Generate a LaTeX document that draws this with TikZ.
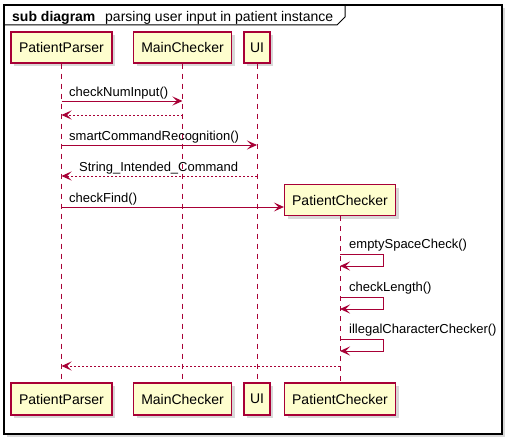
\documentclass[tikz,border=0pt]{standalone}
\usepackage{fontspec}
\setmainfont{Liberation Sans}
\usetikzlibrary{arrows.meta,shadows}
\definecolor{umlred}{HTML}{A80036}
\definecolor{umlfill}{HTML}{FEFECE}
\begin{document}
\begin{tikzpicture}[x=1pt,y=-1pt,
    actor/.style={draw=umlred,fill=umlfill,line width=1.2pt,minimum height=31pt,inner sep=0pt,font=\fontsize{14}{16}\selectfont,drop shadow={shadow xshift=3pt,shadow yshift=-3pt,opacity=.3}},
    life/.style={draw=umlred,dash pattern=on 5pt off 5pt,line width=.8pt},
    msg/.style={draw=umlred,line width=.9pt,-{Stealth[length=10pt,width=9pt,inset=4.5pt]}},
    ret/.style={msg,dash pattern=on 2pt off 2pt},
    lbl/.style={anchor=base west,inner sep=0pt,font=\fontsize{13}{15}\selectfont}]
    \useasboundingbox (0,0) rectangle (512,444);
    \draw[line width=1.3pt,fill=white,drop shadow={shadow xshift=3pt,shadow yshift=-3pt,opacity=.3}] (4,5) rectangle (502,434);
    \draw[line width=1pt] (4,25) -- (337,25) -- (345,17) -- (345,5);
    \node[anchor=base west,inner sep=0pt,font=\fontsize{14}{16}\selectfont\bfseries](t1) at (12,21.5) {sub diagram};
    \node[anchor=base west,inner sep=0pt,font=\fontsize{14}{16}\selectfont](t2) at (105,21.5) {parsing user input in patient instance};
    \node[actor,minimum width=101pt](ppT) at (61.5,47.5) {PatientParser};
    \node[actor,minimum width=98pt](mcT) at (182.5,47.5) {MainChecker};
    \node[actor,minimum width=26pt](uiT) at (257,47.5) {UI};
    \node[actor,minimum width=111pt](pcT) at (340,200) {PatientChecker};
    \node[actor,minimum width=101pt,minimum height=32pt](ppB) at (61.5,399) {PatientParser};
    \node[actor,minimum width=98pt,minimum height=32pt](mcB) at (182.5,399) {MainChecker};
    \node[actor,minimum width=26pt,minimum height=32pt](uiB) at (257,399) {UI};
    \node[actor,minimum width=111pt,minimum height=32pt](pcB) at (340,399) {PatientChecker};
    \draw[life] (ppT) -- (ppB);
    \draw[life] (mcT) -- (mcB);
    \draw[life] (uiT) -- (uiB);
    \draw[life] (pcT) -- (pcB);
    \draw[msg] (ppT |- 0,101) -- (mcT |- 0,101);
    \node[lbl](l1) at (69,96.5) {checkNumInput()};
    \draw[ret] (mcT |- 0,115) -- (ppT |- 0,115);
    \draw[msg] (ppT |- 0,145) -- (uiT |- 0,145);
    \node[lbl](l2) at (69,140.5) {smartCommandRecognition()};
    \draw[ret] (uiT |- 0,176) -- (ppT |- 0,176);
    \node[lbl](l3) at (79,171.5) {String\_Intended\_Command};
    \draw[msg] (ppT |- 0,207) -- (pcT.west |- 0,207);
    \node[lbl](l4) at (69,202.5) {checkFind()};
    \draw[msg] (pcT |- 0,254) -- ++(43,0) -- ++(0,12) -- ++(-43,0);
    \node[lbl](l5) at (349,248.5) {emptySpaceCheck()};
    \draw[msg] (pcT |- 0,297) -- ++(43,0) -- ++(0,12) -- ++(-43,0);
    \node[lbl](l6) at (349,291.5) {checkLength()};
    \draw[msg] (pcT |- 0,339) -- ++(43,0) -- ++(0,12) -- ++(-43,0);
    \node[lbl](l7) at (349,333.5) {illegalCharacterChecker()};
    \draw[ret] (pcT |- 0,366) -- (ppT |- 0,366);
\end{tikzpicture}
\end{document}
